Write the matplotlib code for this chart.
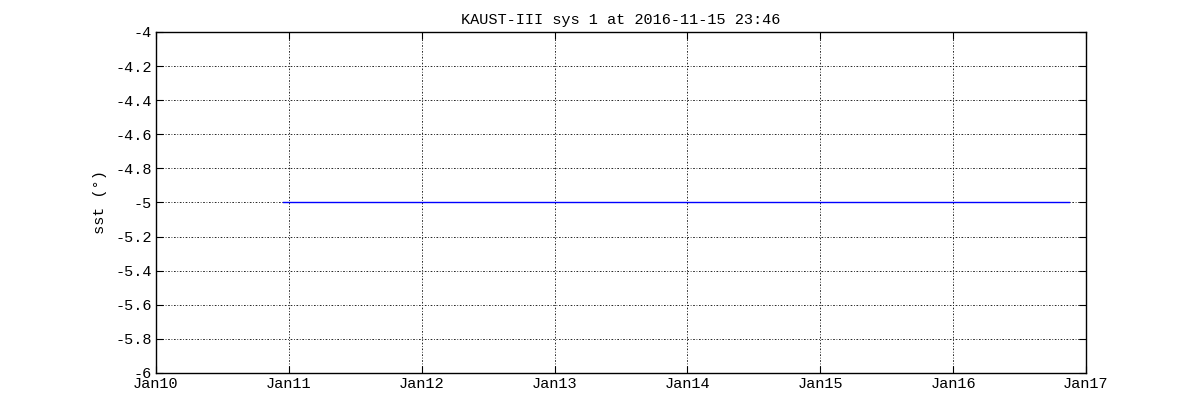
import numpy as np
import pandas as pd
import matplotlib
matplotlib.use("Agg")
import matplotlib.pyplot as plt
import matplotlib.dates as mdates

# Data (constant sst value over the record)
times = pd.to_datetime(["2016-01-10 22:55", "2016-01-16 21:00"])
sst = [-5.0, -5.0]

title = "KAUST-III sys 1 at 2016-11-15 23:46"
ylabel = "sst (\u00b0)"
yticks = np.round(np.arange(-6.0, -3.99, 0.2), 1)
xlim = pd.to_datetime(["2016-01-10", "2016-01-17"])

plt.rcParams["font.family"] = ["Liberation Mono", "DejaVu Sans Mono"]
plt.rcParams["font.size"] = 11
plt.rcParams["axes.unicode_minus"] = True

fig = plt.figure(figsize=(12, 4.2), dpi=100)
ax = fig.add_axes([0.13, 0.112, 0.775, 0.812])

ax.plot(times, sst, color="blue", linewidth=1)

ax.set_xlim(xlim[0], xlim[1])
ax.set_ylim(-6, -4)
ax.set_yticks(yticks)
ax.set_yticklabels(["%g" % v for v in yticks])
ax.xaxis.set_major_locator(mdates.DayLocator())
ax.xaxis.set_major_formatter(mdates.DateFormatter("%b%d"))

ax.grid(True, color="black", linewidth=0.6, linestyle=(0, (2, 2, 1, 2)))
ax.tick_params(direction="in", length=5, width=0.8, top=True, right=True, pad=3)
for s in ax.spines.values():
    s.set_linewidth(1)

ax.set_title(title, fontsize=11, pad=6)
ax.set_ylabel(ylabel, labelpad=6)

fig.savefig("out.png", dpi=100)
